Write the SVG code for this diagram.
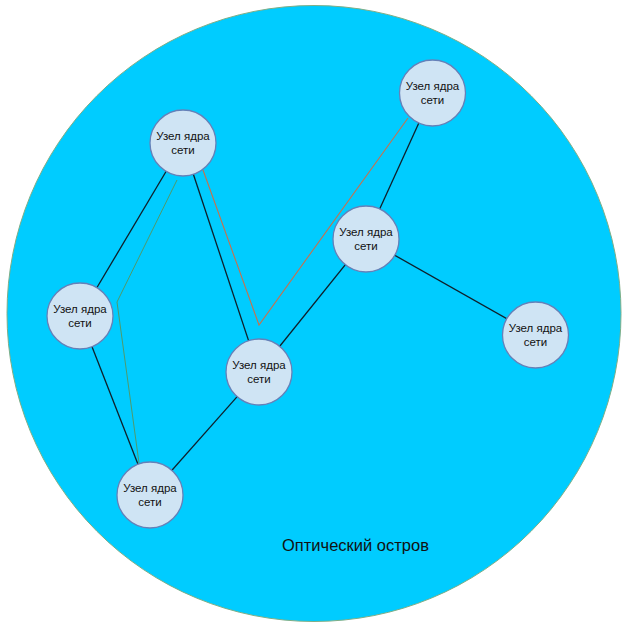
<svg xmlns="http://www.w3.org/2000/svg" width="624" height="630" viewBox="0 0 624 630">
<style>
.island{fill:#00ccff;stroke:#7fae86;stroke-width:1}
.node circle{fill:#cfe4f4;stroke:#6680b8;stroke-width:1.3}
.node text{font-family:"Liberation Sans",Arial,sans-serif;font-size:11.5px;fill:#111;text-anchor:middle}
.link{stroke:#0f1f2a;stroke-width:1.3;fill:none}
.green{stroke:#4f9a6c;stroke-width:1;fill:none}
.orange{stroke:#c8704c;stroke-width:1.1;fill:none}
.label{font-family:"Liberation Sans",Arial,sans-serif;font-size:16.5px;fill:#111}
</style>
<rect width="624" height="630" fill="#ffffff"/>
<g id="island">
<ellipse class="island" cx="314" cy="313.5" rx="307" ry="308"/>
<text class="label" x="282" y="551">Оптический остров</text>
</g>
<g id="connectors">
<line class="link" x1="183" y1="143" x2="80" y2="316"/>
<line class="link" x1="80" y1="316" x2="150" y2="495"/>
<line class="link" x1="183" y1="143" x2="259" y2="372"/>
<line class="link" x1="259" y1="372" x2="150" y2="495"/>
<line class="link" x1="259" y1="372" x2="366" y2="239"/>
<line class="link" x1="366" y1="239" x2="432.5" y2="93"/>
<line class="link" x1="366" y1="239" x2="535.5" y2="335"/>
<polyline class="green" points="177,180 117,302 139,463"/>
<polyline class="orange" points="203,170 259,325 408,118"/>
</g>
<g id="node-a" class="node"><circle cx="183" cy="143" r="33"/><text x="183" y="140">Узел ядра</text><text x="183" y="154">сети</text></g>
<g id="node-b" class="node"><circle cx="432.5" cy="93" r="33"/><text x="432.5" y="90">Узел ядра</text><text x="432.5" y="104">сети</text></g>
<g id="node-c" class="node"><circle cx="366" cy="239" r="33"/><text x="366" y="236">Узел ядра</text><text x="366" y="250">сети</text></g>
<g id="node-d" class="node"><circle cx="80" cy="316" r="33"/><text x="80" y="313">Узел ядра</text><text x="80" y="327">сети</text></g>
<g id="node-e" class="node"><circle cx="259" cy="372" r="33"/><text x="259" y="369">Узел ядра</text><text x="259" y="383">сети</text></g>
<g id="node-f" class="node"><circle cx="535.5" cy="335" r="33"/><text x="535.5" y="332">Узел ядра</text><text x="535.5" y="346">сети</text></g>
<g id="node-g" class="node"><circle cx="150" cy="495" r="33"/><text x="150" y="492">Узел ядра</text><text x="150" y="506">сети</text></g>
</svg>
